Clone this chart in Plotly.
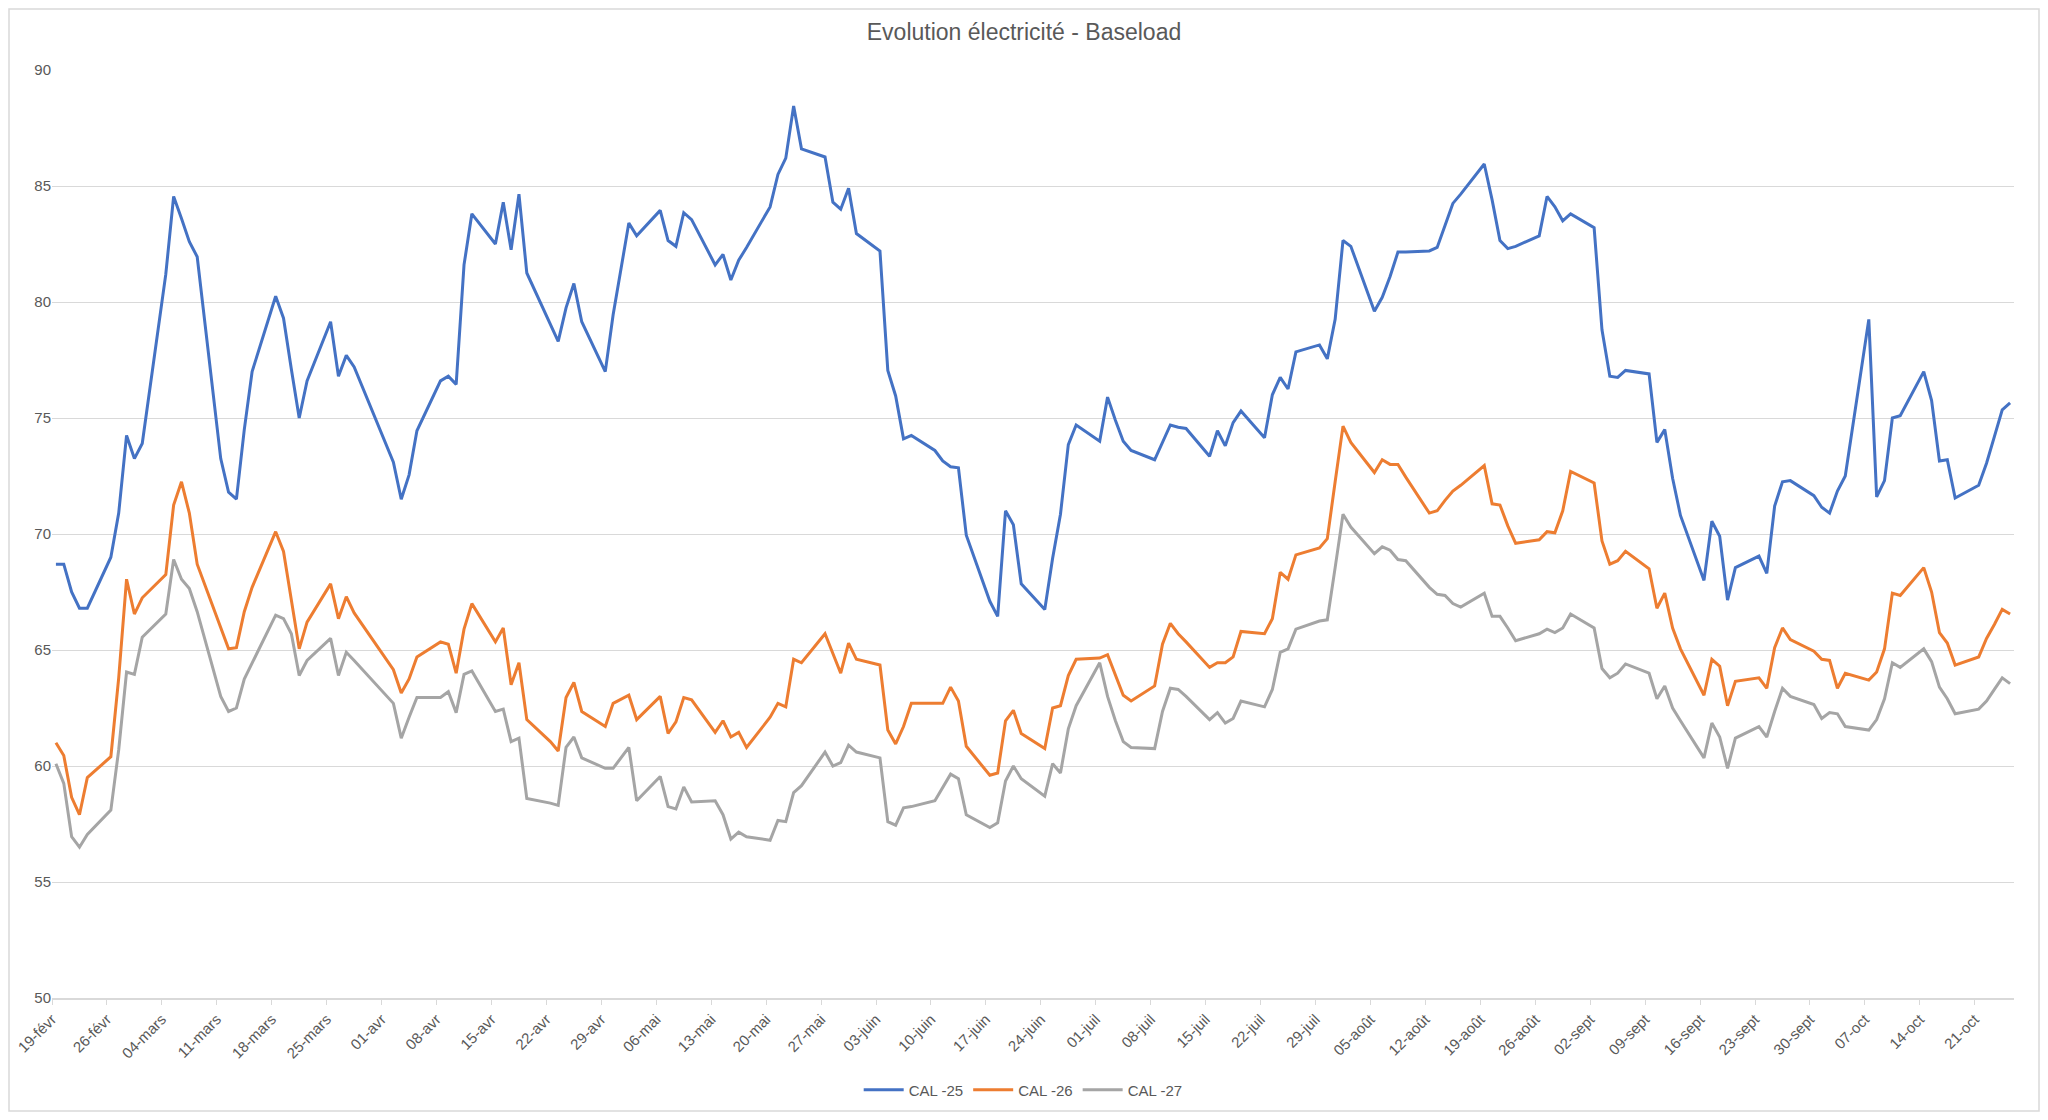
import pandas as pd
import plotly.graph_objects as go

# trading days (weekdays, exchange holidays removed)
holidays = ["2024-03-29", "2024-04-01", "2024-05-01"]
dates = [d for d in pd.bdate_range("2024-02-19", "2024-10-25") if d.strftime("%Y-%m-%d") not in holidays]

cal25 = [
    68.7, 68.7, 67.5, 66.8, 66.8,
    69.0, 70.9, 74.25, 73.25, 73.9,
    81.2, 84.55, 83.6, 82.6, 81.95,
    73.25, 71.8, 71.5, 74.5, 77.0,
    80.25, 79.3, 77.1, 75.0, 76.6,
    79.15, 76.8, 77.7, 77.2,
    73.1, 71.5, 72.55, 74.45,
    76.6, 76.8, 76.45, 81.6, 83.8,
    82.5, 84.3, 82.25, 84.65, 81.25,
    79.0, 78.3, 79.75, 80.8, 79.15,
    77.0, 79.45, 83.4, 82.85,
    83.95, 82.65, 82.4, 83.85, 83.55,
    81.6, 82.05, 80.95, 81.8, 82.35,
    84.1, 85.5, 86.2, 88.45, 86.6,
    86.25, 84.3, 84.0, 84.9, 82.95,
    82.2, 77.05, 75.95, 74.1, 74.25,
    73.6, 73.15, 72.9, 72.85, 69.95,
    67.1, 66.45, 71.0, 70.4, 67.85,
    66.75, 68.95, 70.85, 73.85, 74.7,
    74.0, 75.9, 74.9, 74.0, 73.6,
    73.2, 73.95, 74.7, 74.6, 74.55,
    73.35, 74.45, 73.8, 74.8, 75.3,
    74.15, 76.0, 76.75, 76.25, 77.85,
    78.15, 77.55, 79.25, 82.65, 82.4,
    79.6, 80.2, 81.1, 82.15, 82.15,
    82.2, 82.35, 83.3, 84.25, 84.65,
    85.95, 84.4, 82.65, 82.3, 82.4,
    82.85, 84.55, 84.1, 83.5, 83.8,
    83.2, 78.8, 76.8, 76.75, 77.05,
    76.9, 73.95, 74.5, 72.4, 70.8,
    68.0, 70.55, 69.9, 67.15, 68.55,
    69.05, 68.3, 71.2, 72.25, 72.3,
    71.65, 71.15, 70.9, 71.85, 72.5,
    79.25, 71.6, 72.3, 75.0, 75.1,
    77.0, 75.75, 73.15, 73.2, 71.55,
    72.1, 73.05, 74.2, 75.35, 75.65,
]

cal26 = [
    61.0, 60.45, 58.65, 57.9, 59.5,
    60.4, 63.8, 68.05, 66.55, 67.25,
    68.25, 71.25, 72.25, 70.9, 68.7,
    66.0, 65.05, 65.1, 66.65, 67.7,
    70.1, 69.25, 67.2, 65.05, 66.2,
    67.85, 66.35, 67.3, 66.6,
    64.15, 63.15, 63.75, 64.7,
    65.35, 65.25, 64.0, 65.9, 67.0,
    65.35, 65.95, 63.5, 64.45, 62.0,
    61.05, 60.65, 62.95, 63.6, 62.35,
    61.7, 62.7, 63.05, 62.0,
    63.0, 61.4, 61.9, 62.95, 62.85,
    61.45, 61.95, 61.25, 61.45, 60.8,
    62.1, 62.7, 62.55, 64.6, 64.45,
    65.7, 64.85, 64.0, 65.3, 64.6,
    64.35, 61.55, 60.95, 61.7, 62.7,
    62.7, 62.7, 63.4, 62.8, 60.85,
    59.6, 59.7, 61.95, 62.4, 61.4,
    60.75, 62.5, 62.6, 63.9, 64.6,
    64.65, 64.8, 63.95, 63.05, 62.8,
    63.45, 65.25, 66.15, 65.7, 65.35,
    64.25, 64.45, 64.45, 64.7, 65.8,
    65.7, 66.35, 68.35, 68.05, 69.1,
    69.4, 69.8, 72.25, 74.65, 73.95,
    72.65, 73.2, 73.0, 73.0, 72.45,
    70.9, 71.0, 71.45, 71.85, 72.1,
    72.95, 71.3, 71.25, 70.35, 69.6,
    69.75, 70.1, 70.05, 71.0, 72.7,
    72.2, 69.7, 68.7, 68.85, 69.25,
    68.5, 66.8, 67.45, 65.95, 65.05,
    63.05, 64.6, 64.3, 62.6, 63.65,
    63.8, 63.35, 65.1, 65.95, 65.45,
    64.95, 64.6, 64.55, 63.35, 64.0,
    63.7, 64.05, 65.05, 67.45, 67.35,
    68.55, 67.5, 65.75, 65.3, 64.35,
    64.7, 65.5, 66.1, 66.75, 66.55,
]

cal27 = [
    60.1, 59.25, 56.95, 56.5, 57.05,
    58.1, 60.7, 64.05, 63.95, 65.55,
    66.55, 68.9, 68.05, 67.65, 66.65,
    63.0, 62.35, 62.5, 63.75, 64.45,
    66.5, 66.35, 65.7, 63.9, 64.55,
    65.5, 63.9, 64.9, 64.55,
    62.7, 61.2, 62.1, 62.95,
    62.95, 63.2, 62.3, 63.95, 64.1,
    62.35, 62.45, 61.05, 61.2, 58.6,
    58.4, 58.3, 60.8, 61.25, 60.35,
    59.9, 59.9, 60.8, 58.5,
    59.55, 58.25, 58.15, 59.1, 58.45,
    58.5, 57.9, 56.85, 57.15, 56.95,
    56.8, 57.65, 57.6, 58.85, 59.15,
    60.6, 60.0, 60.15, 60.9, 60.6,
    60.35, 57.6, 57.45, 58.2, 58.25,
    58.5, 59.1, 59.65, 59.45, 57.9,
    57.35, 57.55, 59.35, 60.0, 59.45,
    58.7, 60.1, 59.7, 61.6, 62.6,
    64.45, 63.0, 61.95, 61.05, 60.8,
    60.75, 62.35, 63.35, 63.3, 63.0,
    62.0, 62.3, 61.85, 62.05, 62.8,
    62.55, 63.3, 64.9, 65.05, 65.9,
    66.25, 66.3, 68.55, 70.85, 70.3,
    69.15, 69.45, 69.3, 68.9, 68.85,
    67.7, 67.4, 67.35, 67.0, 66.85,
    67.45, 66.45, 66.45, 65.95, 65.4,
    65.7, 65.9, 65.75, 65.95, 66.55,
    65.95, 64.2, 63.8, 64.0, 64.4,
    64.0, 62.9, 63.45, 62.5, 61.95,
    60.35, 61.85, 61.25, 59.9, 61.2,
    61.7, 61.25, 62.35, 63.35, 63.0,
    62.65, 62.05, 62.3, 62.25, 61.7,
    61.55, 62.0, 62.9, 64.45, 64.25,
    65.05, 64.5, 63.4, 62.9, 62.25,
    62.45, 62.8, 63.3, 63.8, 63.55,
]

tick_labels = [
    "19-févr", "26-févr", "04-mars", "11-mars", "18-mars", "25-mars",
    "01-avr", "08-avr", "15-avr", "22-avr", "29-avr", "06-mai", "13-mai",
    "20-mai", "27-mai", "03-juin", "10-juin", "17-juin", "24-juin",
    "01-juil", "08-juil", "15-juil", "22-juil", "29-juil", "05-août",
    "12-août", "19-août", "26-août", "02-sept", "09-sept", "16-sept",
    "23-sept", "30-sept", "07-oct", "14-oct", "21-oct",
]
tick_vals = pd.date_range("2024-02-19", periods=len(tick_labels), freq="7D")

# Excel date axis draws each point in the middle of its day
x = [d + pd.Timedelta(hours=12) for d in dates]

series = [
    ("CAL -25", cal25, "#4472C4"),
    ("CAL -26", cal26, "#ED7D31"),
    ("CAL -27", cal27, "#A5A5A5"),
]

FONT = "Liberation Sans"
GREY_TXT = "#595959"

# page body adds an 8px offset, so the figure is a bit smaller than the window
W, H = 2032, 1104
ML, MR, MT, MB = 44, 26, 62, 114
PW, PH = W - ML - MR, H - MT - MB

fig = go.Figure()
for name, vals, color in series:
    fig.add_trace(go.Scatter(
        x=x, y=vals, name=name, mode="lines",
        line=dict(color=color, width=3, shape="linear"),
    ))

fig.update_layout(
    width=W, height=H,
    paper_bgcolor="white", plot_bgcolor="white",
    margin=dict(l=ML, r=MR, t=MT, b=MB, autoexpand=False),
    font=dict(family=FONT, color=GREY_TXT),
    title=dict(text="Evolution électricité - Baseload", x=0.5, xanchor="center",
               y=1 - 24 / H, yanchor="middle",
               font=dict(size=23, color=GREY_TXT, family=FONT)),
    showlegend=True,
    legend=dict(orientation="h", x=0.495, xanchor="center", y=-92 / PH, yanchor="middle",
                font=dict(size=15, color=GREY_TXT), itemwidth=40, tracegroupgap=0),
    shapes=[dict(type="rect", xref="paper", yref="paper",
                 x0=-(ML - 1) / PW, x1=1 + (MR - 1) / PW,
                 y0=-(MB - 1) / PH, y1=1 + (MT - 1) / PH,
                 line=dict(color="#d9d9d9", width=1.5), layer="below")],
)

fig.update_xaxes(
    type="date", range=["2024-02-19", "2024-10-26"],
    tickmode="array", tickvals=tick_vals, ticktext=tick_labels,
    tickangle=-45, tickfont=dict(size=15, color=GREY_TXT),
    ticks="outside", ticklen=5, tickcolor="#d9d9d9",
    showline=True, linecolor="#d9d9d9", linewidth=1.5,
    showgrid=False, zeroline=False,
)
fig.update_yaxes(
    range=[50, 90], dtick=5, tick0=50,
    tickfont=dict(size=15, color=GREY_TXT),
    showgrid=True, gridcolor="#d9d9d9", gridwidth=1,
    showline=False, zeroline=False, ticks="",
)

fig.write_html("out.html")
